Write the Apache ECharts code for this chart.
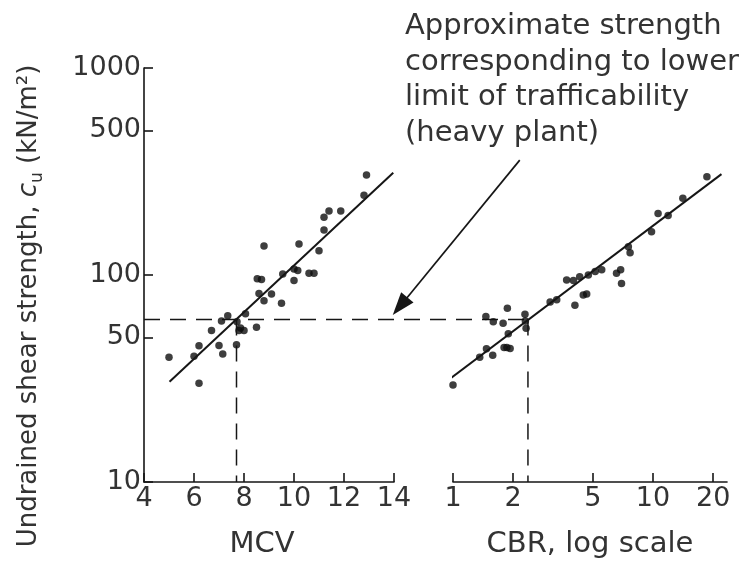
<!DOCTYPE html>
<html><head><meta charset="utf-8">
<script src="https://cdn.jsdelivr.net/npm/echarts@6/dist/echarts.min.js"></script>
<style>html,body{margin:0;padding:0;background:#fff}#c{width:755px;height:568px}</style>
</head><body><div id="c"></div>
<script>
// ---- data ----
const mcvValues   = [5.0, 6.0, 6.2, 6.2, 6.7, 7.0, 7.15, 7.1, 7.35, 7.7, 7.72, 7.8, 7.86, 8.0, 8.06, 8.5, 8.53, 8.7, 8.6, 8.8, 9.1, 9.5, 8.8, 9.55, 10.0, 10.0, 10.15, 10.2, 10.6, 10.8, 11.0, 11.2, 11.2, 11.4, 11.87, 12.8, 12.9];
const mcvStrength = [40, 40.5, 30, 45.5, 54, 45.6, 41.5, 60, 63.5, 46, 59.5, 54, 55.5, 54, 65, 56, 96, 95, 81.5, 75, 81, 73, 138, 101, 107, 94, 105, 141, 102, 102, 131, 165, 190, 204, 204, 243, 304];
const cbrValues   = [1.0, 1.36, 1.47, 1.58, 1.80, 1.86, 1.93, 1.46, 1.59, 1.78, 1.87, 1.89, 2.29, 2.32, 2.30, 3.06, 3.3, 3.7, 4.0, 4.3, 4.75, 5.14, 5.54, 4.07, 4.48, 4.66, 6.57, 6.89, 6.96, 7.68, 7.53, 9.83, 10.6, 11.9, 14.1, 18.6];
const cbrStrength = [29.4, 40, 44, 41, 44.7, 44.7, 44.2, 63, 59.5, 58.5, 69, 52, 64.7, 55.3, 60, 74, 76, 94.6, 94, 98, 100, 104, 106, 71.5, 80, 81, 102, 106, 91, 128, 137, 162, 198, 194, 235, 298];
const mcvFitX = [5.02, 13.97];
const mcvFitY = [30.5, 312];
const cbrFitX = [0.91, 22.0];
const cbrFitY = [30.2, 307];
const limitStrength = 61;   // lower limit of trafficability
const limitMCV = 7.7;
const limitCBR = 2.37;
const strengthTicks = [10, 50, 100, 500, 1000];
const mcvTicks = [4, 6, 8, 10, 12, 14];
const cbrTicks = [1, 2, 5, 10, 20];
const noteLines = ['Approximate strength', 'corresponding to lower', 'limit of trafficability', '(heavy plant)'];

const FONT = 'DejaVu Sans';
const INK = '#161616';
const TXT = '#333';

const pairs = (xs, ys) => xs.map((x, i) => [x, ys[i]]);
const plain = v => String(v);

const chart = echarts.init(document.getElementById('c'), null, {renderer: 'canvas'});

const axisLineStyle = {color: INK, width: 1.6};
const labelStyle = {fontFamily: FONT, fontSize: 27, color: TXT, formatter: plain};

const option = {
  backgroundColor: '#fff',
  animation: false,
  grid: [
    {left: 144, top: 68, width: 250, height: 414},
    {left: 453, top: 68, width: 274, height: 414}
  ],
  xAxis: [
    {
      gridIndex: 0, type: 'value', min: 4, max: 14, interval: 2,
      axisLine: {show: true, lineStyle: axisLineStyle},
      axisTick: {show: true, inside: true, length: 9, lineStyle: axisLineStyle},
      axisLabel: {...labelStyle, margin: 3, showMinLabel: true, showMaxLabel: true},
      splitLine: {show: false},
      name: 'MCV', nameLocation: 'middle', nameGap: 48,
      nameTextStyle: {fontFamily: FONT, fontSize: 29, color: TXT, padding: [0, 14, 0, 0]}
    },
    {
      gridIndex: 1, type: 'log', logBase: 10, min: 1, max: 23.44,
      axisLine: {show: true, lineStyle: axisLineStyle},
      axisTick: {show: true, inside: true, length: 9, lineStyle: axisLineStyle, customValues: cbrTicks},
      axisLabel: {...labelStyle, margin: 3, customValues: cbrTicks},
      splitLine: {show: false},
      minorTick: {show: false},
      name: 'CBR, log scale', nameLocation: 'middle', nameGap: 48,
      nameTextStyle: {fontFamily: FONT, fontSize: 29, color: TXT}
    }
  ],
  yAxis: [
    {
      gridIndex: 0, type: 'log', logBase: 10, min: 10, max: 1000,
      axisLine: {show: true, lineStyle: axisLineStyle},
      axisTick: {show: true, inside: true, length: 9, lineStyle: axisLineStyle, customValues: strengthTicks},
      axisLabel: {...labelStyle, margin: 3, customValues: strengthTicks},
      splitLine: {show: false},
      minorTick: {show: false},
      name: '{t|Undrained shear strength, }{i|c}{s|u}{t| (kN/m²)}',
      nameLocation: 'middle', nameGap: 98,
      nameTextStyle: {
        fontFamily: FONT, fontSize: 26, color: TXT, padding: [0, 62, 0, 0],
        rich: {
          t: {fontFamily: FONT, fontSize: 26, color: TXT, lineHeight: 33},
          i: {fontFamily: FONT, fontSize: 26, color: TXT, fontStyle: 'italic', lineHeight: 33},
          s: {fontFamily: FONT, fontSize: 17, color: TXT, lineHeight: 22, verticalAlign: 'bottom'}
        }
      }
    },
    {
      gridIndex: 1, type: 'log', logBase: 10, min: 10, max: 1000, show: false
    }
  ],
  series: [
    {
      type: 'scatter', xAxisIndex: 0, yAxisIndex: 0, symbolSize: 7.5,
      itemStyle: {color: '#0e0e0e'}, data: pairs(mcvValues, mcvStrength)
    },
    {
      type: 'scatter', xAxisIndex: 1, yAxisIndex: 1, symbolSize: 7.5,
      itemStyle: {color: '#0e0e0e'}, data: pairs(cbrValues, cbrStrength)
    },
    {
      type: 'line', xAxisIndex: 0, yAxisIndex: 0, symbol: 'none', clip: false,
      lineStyle: {color: INK, width: 2}, data: pairs(mcvFitX, mcvFitY)
    },
    {
      type: 'line', xAxisIndex: 1, yAxisIndex: 1, symbol: 'none', clip: false,
      lineStyle: {color: INK, width: 2}, data: pairs(cbrFitX, cbrFitY)
    },
    {
      type: 'line', xAxisIndex: 0, yAxisIndex: 0, symbol: 'none',
      lineStyle: {color: INK, width: 1.5, type: [16, 10]},
      data: [[limitMCV, limitStrength], [limitMCV, 10]]
    },
    {
      type: 'line', xAxisIndex: 1, yAxisIndex: 1, symbol: 'none',
      lineStyle: {color: INK, width: 1.5, type: [16, 10]},
      data: [[limitCBR, limitStrength], [limitCBR, 10]]
    }
  ]
};
chart.setOption(option);

// annotation elements anchored on the library's scales
const pL = chart.convertToPixel({xAxisIndex: 0, yAxisIndex: 0}, [4, limitStrength]);
const pR = chart.convertToPixel({xAxisIndex: 1, yAxisIndex: 1}, [limitCBR, limitStrength]);
const tip = chart.convertToPixel({xAxisIndex: 0, yAxisIndex: 0}, [13.95, 64]);
const tail = [tip[0] + 127, tip[1] - 155];
const dx = tip[0] - tail[0], dy = tip[1] - tail[1];
const L = Math.hypot(dx, dy), ux = dx / L, uy = dy / L;
const hl = 23, hw = 8;
const base = [tip[0] - ux * hl, tip[1] - uy * hl];
const head = [
  tip,
  [base[0] - uy * hw, base[1] + ux * hw],
  [base[0] + uy * hw, base[1] - ux * hw]
];

chart.setOption({
  graphic: [
    {
      type: 'line', silent: true,
      shape: {x1: pL[0], y1: pL[1], x2: pR[0], y2: pR[1]},
      style: {stroke: INK, lineWidth: 1.5, lineDash: [16, 10]}
    },
    {
      type: 'line', silent: true,
      shape: {x1: tail[0], y1: tail[1], x2: base[0] + ux * 4, y2: base[1] + uy * 4},
      style: {stroke: INK, lineWidth: 1.7}
    },
    {
      type: 'polygon', silent: true,
      shape: {points: head},
      style: {fill: INK}
    },
    {
      type: 'text', silent: true, left: 405, top: 9,
      style: {
        text: noteLines.join('\n'), font: '29px "' + FONT + '"',
        lineHeight: 35.5, fill: TXT
      }
    }
  ]
});
</script>
</body></html>
